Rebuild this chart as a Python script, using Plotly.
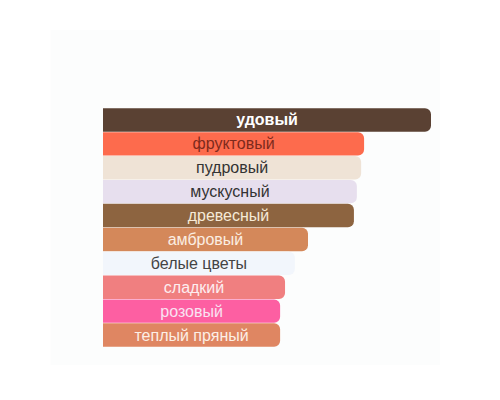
import plotly.graph_objects as go

# notes (top to bottom) and their relative strength
notes = ["удовый", "фруктовый", "пудровый", "мускусный", "древесный",
         "амбровый", "белые цветы", "сладкий", "розовый", "теплый пряный"]
values = [100, 79.6, 78.7, 77.4, 76.5, 62.5, 58.5, 55.5, 54, 54]
bar_colors = ["#5a4133", "#fd6b4d", "#efe3d6", "#e7dfee", "#8d6440",
              "#d4885a", "#f2f6fc", "#f07f80", "#fd5fa2", "#df8662"]
text_colors = ["#ffffff", "#7d2a1c", "#333333", "#333333", "#f6ead7",
               "#fbeee2", "#444444", "#fdeef0", "#f9e2f2", "#fcefe6"]

labels = ["<b>" + notes[0] + "</b>"] + notes[1:]

fig = go.Figure()
fig.add_trace(go.Bar(
    x=values,
    y=notes,
    orientation="h",
    text=labels,
    textposition="inside",
    insidetextanchor="middle",
    textfont=dict(family="Liberation Sans", size=16, color=text_colors),
    marker=dict(color=bar_colors, cornerradius=6, line=dict(width=0)),
    hoverinfo="skip",
))

# faint panel behind the chart
fig.add_shape(type="rect", xref="paper", yref="paper",
              x0=-0.16, x1=1.027, y0=-0.075, y1=1.326,
              fillcolor="#fcfdfd", line=dict(width=0), layer="below")

fig.update_layout(
    width=500, height=400,
    margin=dict(l=95, r=77, t=100, b=61),
    paper_bgcolor="white",
    plot_bgcolor="rgba(0,0,0,0)",
    bargap=0.02,
    showlegend=False,
    uniformtext=dict(mode="show", minsize=16),
    xaxis=dict(range=[0, 100], visible=False, fixedrange=True),
    yaxis=dict(autorange="reversed", visible=False, fixedrange=True),
)

fig.write_html("out.html")
